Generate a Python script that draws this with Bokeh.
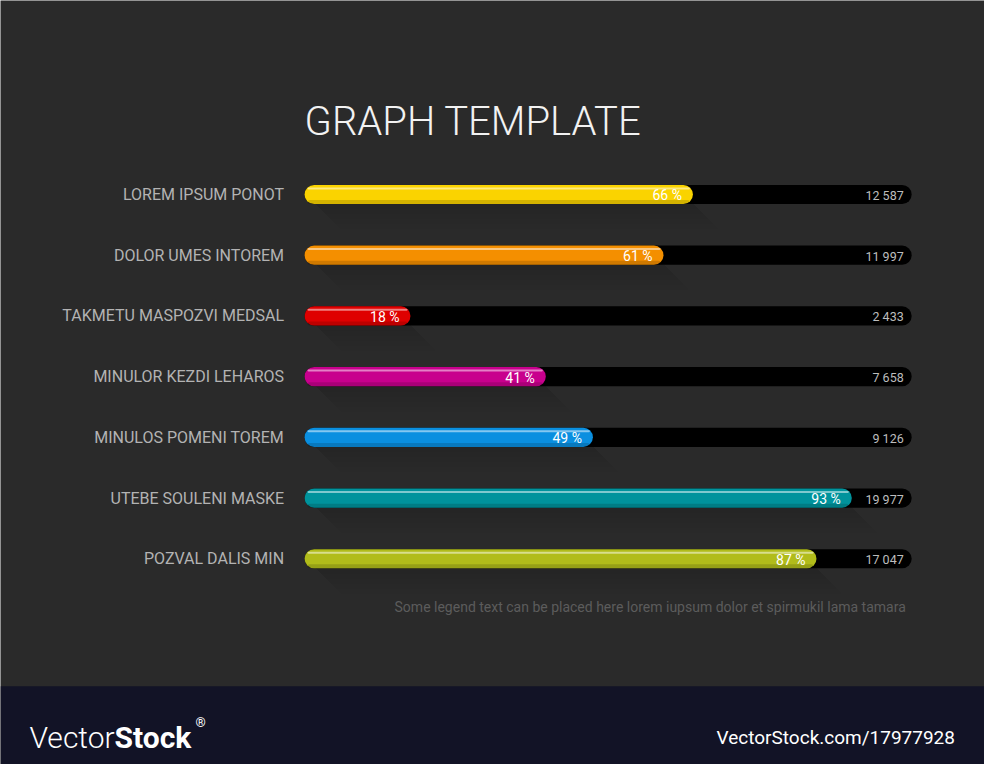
import numpy as np
from bokeh.plotting import figure
from bokeh.models import ColumnDataSource, Range1d, Label, BoxAnnotation
from bokeh.core.properties import value
from bokeh.embed import file_html
from bokeh.resources import INLINE

# ---------------- data ----------------
categories = ["LOREM IPSUM PONOT", "DOLOR UMES INTOREM", "TAKMETU MASPOZVI MEDSAL",
              "MINULOR KEZDI LEHAROS", "MINULOS POMENI TOREM", "UTEBE SOULENI MASKE",
              "POZVAL DALIS MIN"]
percents = [66, 61, 18, 41, 49, 93, 87]
totals = [12587, 11997, 2433, 7658, 9126, 19977, 17047]
colors = ["#fad300", "#f48f00", "#df0000", "#c8008d", "#0a8fe0", "#00939c", "#b1bc1a"]
title_text = "GRAPH TEMPLATE"
legend_text = "Some legend text can be placed here lorem iupsum dolor et spirmukil lama tamara"

# ---------------- geometry / style ----------------
W, H = 984, 764
SX, SY = W / 1000.0, H / 780.0      # design grid (1000x780) -> canvas
X0_PX = 309 * SX                    # screen x of 0 %
PX_PER_PCT = 5.98 * SX
ROW_PX = 62 * SY                    # row spacing
BOTTOM_ROW_PX = H - 570 * SY        # bottom row centre, px from bottom
TRACK_END = (926 * SX - X0_PX) / PX_PER_PCT
BAR_PX = 19.5 * SY
BG = "#2a2a2a"

def sy(ref_y):   # design y (from top) -> bokeh screen y (from bottom)
    return H - ref_y * SY

n = len(categories)
ypos = np.arange(n)[::-1].astype(float)   # first category at top
bar_h = BAR_PX / ROW_PX

def fmt(v):
    return f"{v:,}".replace(",", " ")

src = ColumnDataSource(dict(
    cat=categories, pct=percents, y=ypos, color=colors,
    pct_lbl=[f"{p} %" for p in percents],
    tot_lbl=[fmt(t) for t in totals],
    track=[TRACK_END] * n,
    zero=[0] * n,
    hl_left=[3.0 / PX_PER_PCT] * n,
    hl_right=[pc - 3.0 / PX_PER_PCT for pc in percents],
    hl_y=ypos + bar_h / 2 - 3.5 / ROW_PX,
    dk_y=ypos - bar_h / 2 + 2.0 / ROW_PX,
))

xs0 = -X0_PX / PX_PER_PCT
xs1 = (W - X0_PX) / PX_PER_PCT
ys0 = -BOTTOM_ROW_PX / ROW_PX
ys1 = ys0 + H / ROW_PX

p = figure(width=W, height=H, output_backend="svg", toolbar_location=None,
           x_range=Range1d(xs0, xs1), y_range=Range1d(ys0, ys1),
           min_border=0, background_fill_color=BG, border_fill_color=BG,
           outline_line_color=None)
p.axis.visible = False
p.grid.visible = False

# soft long shadows (layered)
for k in range(1, 6):
    d = 5.0 * k
    xs_l, ys_l = [], []
    for pc, yy in zip(percents, ypos):
        yb = yy - bar_h / 2
        xs_l.append([2.0, pc, pc + d / PX_PER_PCT, 2.0 + d / PX_PER_PCT])
        ys_l.append([yb, yb, yb - d / ROW_PX, yb - d / ROW_PX])
    p.patches(xs_l, ys_l, fill_color="#000000", fill_alpha=0.025, line_color=None)

R = 10
# black track
p.hbar(y="y", left="zero", right="track", height=bar_h, source=src,
       fill_color="#000000", line_color=None, border_radius=R)
# colored bar
p.hbar(y="y", left="zero", right="pct", height=bar_h, source=src,
       fill_color="color", line_color=None, border_radius=R)
# darker bottom edge
p.hbar(y="dk_y", left="hl_left", right="hl_right", height=4.0 / ROW_PX, source=src,
       fill_color="#000000", fill_alpha=0.15, line_color=None, border_radius=2)
# highlight stripe
p.hbar(y="hl_y", left="hl_left", right="hl_right", height=2.0 / ROW_PX, source=src,
       fill_color="#ffffff", fill_alpha=0.5, line_color=None, border_radius=1)

p.text(x="zero", y="y", text="cat", source=src, x_offset=-20.5,
       text_align="right", text_baseline="middle", text_color="#b3b3b3",
       text_font_size="16px", text_font=value("Roboto"))
p.text(x="pct", y="y", text="pct_lbl", source=src, x_offset=-11, y_offset=1,
       text_align="right", text_baseline="middle", text_color="#ffffff",
       text_font_size="14px", text_font=value("Roboto"))
p.text(x="track", y="y", text="tot_lbl", source=src, x_offset=-8, y_offset=1,
       text_align="right", text_baseline="middle", text_color="#bdbdbd",
       text_font_size="12.5px", text_font=value("Roboto"))

# title
p.add_layout(Label(x=X0_PX, y=sy(124), x_units="screen", y_units="screen",
                   text=title_text, text_color="#f2f2f2", text_font_size="40px",
                   text_font="Roboto Light", text_baseline="alphabetic"))
# legend text
p.add_layout(Label(x=920 * SX, y=sy(619), x_units="screen", y_units="screen",
                   text=legend_text, text_color="#5c5c5c", text_font_size="14px",
                   text_font="Roboto", text_align="right",
                   text_baseline="alphabetic"))

# bottom banner
p.add_layout(BoxAnnotation(left=0, right=W, bottom=0, top=sy(700),
                           left_units="screen", right_units="screen",
                           bottom_units="screen", top_units="screen",
                           fill_color="#121326", fill_alpha=1.0, line_color=None))
p.add_layout(Label(x=29, y=sy(752), x_units="screen", y_units="screen",
                   text="Vector", text_color="#ffffff", text_font_size="30px",
                   text_font="Roboto Light", text_baseline="alphabetic"))
p.add_layout(Label(x=114, y=sy(752), x_units="screen", y_units="screen",
                   text="Stock", text_color="#ffffff", text_font_size="30px",
                   text_font_style="bold", text_font="Roboto",
                   text_baseline="alphabetic"))
p.add_layout(Label(x=195, y=sy(737), x_units="screen", y_units="screen",
                   text="®", text_color="#ffffff", text_font_size="13px",
                   text_font="Roboto", text_baseline="alphabetic"))
p.add_layout(Label(x=970 * SX, y=sy(752), x_units="screen", y_units="screen",
                   text="VectorStock.com/17977928", text_color="#ffffff",
                   text_font_size="19px", text_font="Roboto",
                   text_align="right", text_baseline="alphabetic"))

open("out.html", "w").write(file_html(p, INLINE))
